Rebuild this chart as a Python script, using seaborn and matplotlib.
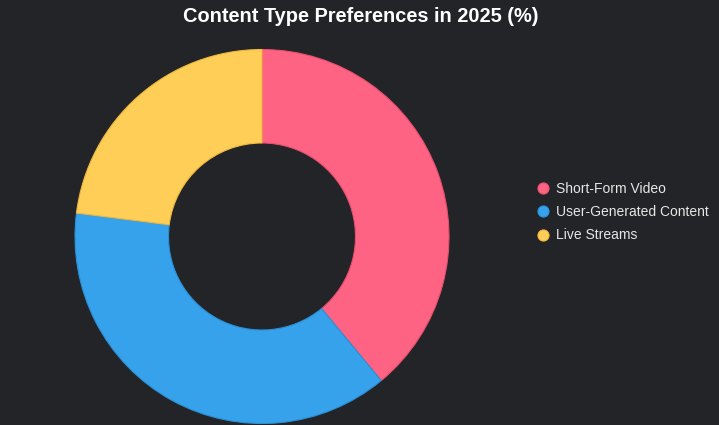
import matplotlib
matplotlib.use("Agg")
import matplotlib.pyplot as plt
from matplotlib.lines import Line2D
import seaborn as sns

labels=["Short-Form Video","User-Generated Content","Live Streams"]
values=[39,38,23]
colors=["#FF6384","#36A2EB","#FFCE56"]
edge_colors=["#E8506F","#2B8FD6","#F0B83E"]

bg="#232428"
sns.set_theme(style="dark",rc={"axes.facecolor":bg,"figure.facecolor":bg})
plt.rcParams["font.family"]=["Liberation Sans","DejaVu Sans"]

fig=plt.figure(figsize=(7.19,4.25),dpi=100)
cx,cy,r=262,236.5,187
ax=fig.add_axes([(cx-r)/719,(425-cy-r)/425,2*r/719,2*r/425])

palette=sns.color_palette(colors)
wedges,_=ax.pie(values,colors=palette,startangle=90,counterclock=False,radius=1,
                wedgeprops=dict(width=0.5,linewidth=0.8))
for w,ec in zip(wedges,edge_colors):
    w.set_edgecolor(ec)
ax.set_xlim(-1,1)
ax.set_ylim(-1,1)
ax.set_aspect("equal")
ax.axis("off")

fig.text(361/719,1-17/425,"Content Type Preferences in 2025 (%)",ha="center",va="center",
         color="white",fontsize=14.4,fontweight="bold")

handles=[Line2D([0],[0],marker="o",linestyle="",markersize=8,markerfacecolor=c,
                markeredgecolor=ec,markeredgewidth=0.8) for c,ec in zip(colors,edge_colors)]
leg=fig.legend(handles,labels,loc="center left",bbox_to_anchor=(522/719,1-212/425),
               frameon=False,fontsize=10,labelcolor="#e6e6e6",handletextpad=0.35,
               labelspacing=0.68,handlelength=1.2)

fig.savefig("out.png",dpi=100,facecolor=bg)
